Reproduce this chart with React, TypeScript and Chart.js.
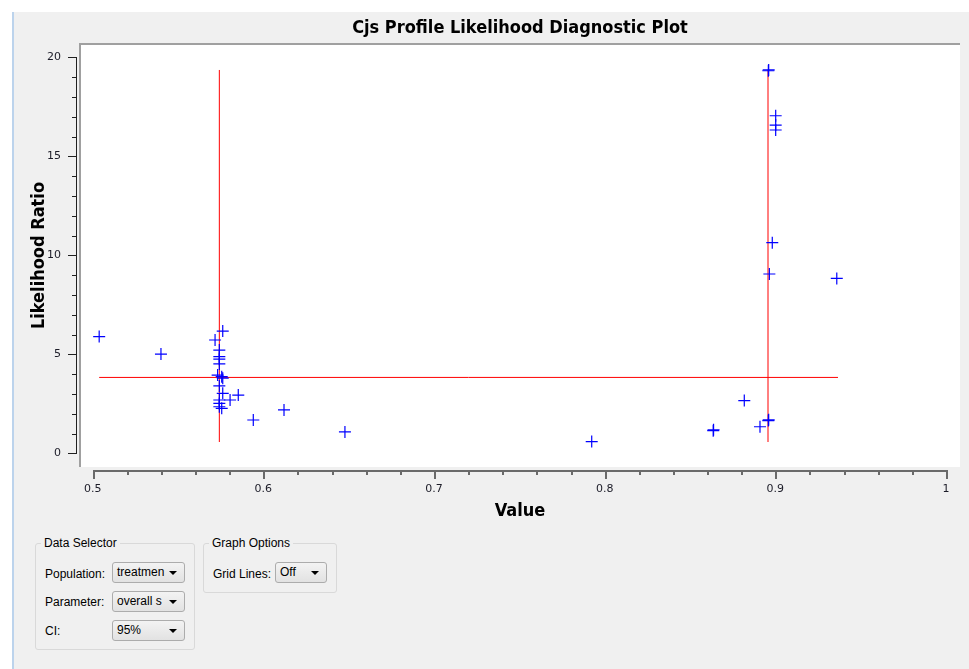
import React, { useEffect, useRef } from 'react';
import { Chart, registerables } from 'chart.js';

Chart.register(...registerables);

// ---- data ----
const valueX = [
  0.5038, 0.54, 0.5717, 0.5762, 0.5742, 0.5742, 0.5742, 0.5742, 0.5732, 0.5756,
  0.5762, 0.5742, 0.5762, 0.5853, 0.5805, 0.5742, 0.5742, 0.5742, 0.5756, 0.5941,
  0.6121, 0.6478, 0.7924, 0.8636, 0.8638, 0.8818, 0.891, 0.8959, 0.8961, 0.8959,
  0.8961, 0.9002, 0.9002, 0.9002, 0.8982, 0.8965, 0.936,
];
const likelihoodRatio = [
  5.9, 5.02, 5.73, 6.18, 5.22, 4.89, 4.76, 4.52, 3.96, 3.88,
  3.8, 3.41, 3.04, 2.95, 2.7, 2.7, 2.53, 2.36, 2.28, 1.69,
  2.2, 1.09, 0.6, 1.15, 1.2, 2.67, 1.35, 1.66, 1.7, 19.32,
  19.36, 17.05, 16.58, 16.33, 10.64, 9.06, 8.84,
];
const ciBounds = [0.5742, 0.8957];
const ciLineRange = [0.58, 19.36];
const criticalValue = 3.84;
const criticalLineRange = [0.5038, 0.9367];
const xTickValues = [0.5, 0.6, 0.7, 0.8, 0.9, 1.0];
const yTickValues = [0, 5, 10, 15, 20];
const xMinorStep = 0.02;
const yMinorStep = 1;

const TICK_FONT = { family: 'DejaVu Sans', size: 11 };
const BOLD_FONT = { family: 'DejaVu Sans Condensed', size: 18, weight: 'bold' };

const qwtAxesPlugin = {
  id: 'qwtAxes',
  beforeDraw(chart: any) {
    const { ctx, chartArea: a } = chart;
    ctx.save();
    ctx.fillStyle = '#ffffff';
    ctx.fillRect(a.left, a.top, a.right - a.left, a.bottom - a.top);
    ctx.fillStyle = '#a0a0a0';
    ctx.fillRect(a.left - 1, a.top - 1, a.right - a.left + 1, 2);
    ctx.fillRect(a.left - 1, a.top - 1, 2, a.bottom - a.top + 1);
    ctx.restore();
  },
  afterDraw(chart: any) {
    const { ctx, chartArea: a, scales } = chart;
    const xs = scales.x;
    const ys = scales.y;
    ctx.save();
    // x axis
    const axY = Math.round(a.bottom) + 3;
    const x0 = Math.round(xs.getPixelForValue(xTickValues[0]));
    const x1 = Math.round(xs.getPixelForValue(xTickValues[xTickValues.length - 1]));
    ctx.fillStyle = '#6a6a6a';
    ctx.fillRect(x0, axY, x1 - x0 + 2, 2);
    const nx = Math.round((xTickValues[xTickValues.length - 1] - xTickValues[0]) / xMinorStep);
    for (let i = 0; i <= nx; i++) {
      const v = xTickValues[0] + i * xMinorStep;
      const px = Math.round(xs.getPixelForValue(v));
      const major = i % 5 === 0;
      ctx.fillRect(px, axY, 2, major ? 9 : 5);
    }
    // y axis
    const axX = Math.round(a.left) - 4;
    const y0 = Math.round(ys.getPixelForValue(yTickValues[0]));
    const y1 = Math.round(ys.getPixelForValue(yTickValues[yTickValues.length - 1]));
    ctx.fillStyle = '#202020';
    ctx.fillRect(axX, y1, 1, y0 - y1 + 1);
    const ny = Math.round((yTickValues[yTickValues.length - 1] - yTickValues[0]) / yMinorStep);
    for (let i = 0; i <= ny; i++) {
      const v = yTickValues[0] + i * yMinorStep;
      const py = Math.round(ys.getPixelForValue(v));
      const major = i % 5 === 0;
      const len = major ? 9 : 5;
      ctx.fillRect(axX - len + 1, py, len, 1);
    }
    ctx.restore();
  },
};

export default function App() {
  const ref = useRef<HTMLCanvasElement>(null);

  useEffect(() => {
    const points = valueX.map((x, i) => ({ x, y: likelihoodRatio[i] }));
    const chart = new Chart(ref.current as HTMLCanvasElement, {
      type: 'scatter',
      data: {
        datasets: [
          {
            label: 'Profile',
            data: points,
            pointStyle: 'cross',
            pointRadius: 6,
            pointBorderWidth: 1.2,
            borderColor: '#0000ff',
            backgroundColor: '#0000ff',
            showLine: false,
          } as any,
          {
            label: 'Lower CI',
            data: [
              { x: ciBounds[0], y: ciLineRange[0] },
              { x: ciBounds[0], y: ciLineRange[1] },
            ],
            showLine: true,
            borderColor: '#ff0000',
            borderWidth: 1,
            pointRadius: 0,
          } as any,
          {
            label: 'Upper CI',
            data: [
              { x: ciBounds[1], y: ciLineRange[0] },
              { x: ciBounds[1], y: ciLineRange[1] },
            ],
            showLine: true,
            borderColor: '#ff0000',
            borderWidth: 1,
            pointRadius: 0,
          } as any,
          {
            label: 'Critical value',
            data: [
              { x: criticalLineRange[0], y: criticalValue },
              { x: criticalLineRange[1], y: criticalValue },
            ],
            showLine: true,
            borderColor: '#ff0000',
            borderWidth: 1,
            pointRadius: 0,
          } as any,
        ],
      },
      options: {
        animation: false,
        responsive: false,
        devicePixelRatio: 1,
        layout: { padding: { left: 0, right: 9, top: 0, bottom: 0 } },
        plugins: {
          legend: { display: false },
          tooltip: { enabled: false },
          title: {
            display: true,
            fullSize: false,
            text: 'Cjs Profile Likelihood Diagnostic Plot',
            color: '#000000',
            font: BOLD_FONT,
            padding: { top: 5.2, bottom: 5.2 },
          },
        },
        scales: {
          x: {
            type: 'linear',
            min: 0.49256,
            max: 1.0082,
            grid: { display: false, drawTicks: true, tickLength: 10 },
            border: { display: false },
            afterBuildTicks: (s: any) => {
              s.ticks = xTickValues.map((v) => ({ value: v }));
            },
            afterFit: (s: any) => {
              s.height = 65;
            },
            ticks: {
              padding: 6,
              color: '#1c1c28',
              font: TICK_FONT,
              maxRotation: 0,
              autoSkip: false,
              callback: (v: any) => String(+Number(v).toFixed(2)),
            },
            title: {
              display: true,
              text: 'Value',
              color: '#000000',
              font: BOLD_FONT,
              padding: { top: 0, bottom: 10 },
            },
          },
          y: {
            type: 'linear',
            min: -0.6815,
            max: 20.671,
            grid: { display: false, drawTicks: true, tickLength: 10 },
            border: { display: false },
            afterBuildTicks: (s: any) => {
              s.ticks = yTickValues.map((v) => ({ value: v }));
            },
            afterFit: (s: any) => {
              s.width = 66;
            },
            ticks: {
              padding: 9,
              color: '#1c1c28',
              font: TICK_FONT,
              autoSkip: false,
              callback: (v: any) => String(v),
            },
            title: {
              display: true,
              text: 'Likelihood Ratio',
              color: '#000000',
              font: BOLD_FONT,
              padding: { top: 14.2, bottom: 0 },
            },
          },
        },
      } as any,
      plugins: [qwtAxesPlugin],
    });
    return () => chart.destroy();
  }, []);

  const uiFont = '12px "Liberation Sans", Arial, sans-serif';

  const label = (left: number, top: number, text: string) => (
    <div
      style={{
        position: 'absolute',
        left,
        top: top - 8,
        height: 16,
        lineHeight: '16px',
        font: uiFont,
        color: '#000',
        whiteSpace: 'nowrap',
      }}
    >
      {text}
    </div>
  );

  const combo = (left: number, top: number, width: number, text: string) => (
    <div
      style={{
        position: 'absolute',
        left,
        top,
        width,
        height: 21,
        boxSizing: 'border-box',
        border: '1px solid #acacac',
        borderRadius: 3,
        background: 'linear-gradient(#f3f3f3, #e2e2e2)',
        font: uiFont,
        color: '#000',
        lineHeight: '19px',
        paddingLeft: 4,
        overflow: 'hidden',
        whiteSpace: 'nowrap',
      }}
    >
      {text}
      <div
        style={{
          position: 'absolute',
          right: 7,
          top: 8,
          width: 0,
          height: 0,
          borderLeft: '4px solid transparent',
          borderRight: '4px solid transparent',
          borderTop: '4px solid #000',
        }}
      />
    </div>
  );

  const group = (left: number, top: number, width: number, height: number, title: string) => (
    <>
      <div
        style={{
          position: 'absolute',
          left,
          top,
          width,
          height,
          boxSizing: 'border-box',
          border: '1px solid #d9d9d9',
          borderRadius: 3,
        }}
      />
      <div
        style={{
          position: 'absolute',
          left: left + 6,
          top: top - 7,
          height: 14,
          lineHeight: '14px',
          padding: '0 3px',
          background: '#f0f0f0',
          font: uiFont,
          color: '#000',
          whiteSpace: 'nowrap',
        }}
      >
        {title}
      </div>
    </>
  );

  return (
    <div
      style={{
        position: 'fixed',
        left: 0,
        top: 0,
        width: 969,
        height: 669,
        background: '#ffffff',
        overflow: 'hidden',
      }}
    >
      <div style={{ position: 'absolute', left: 14, top: 12, right: 0, bottom: 0, background: '#f0f0f0' }} />
      <div style={{ position: 'absolute', left: 12, top: 12, width: 2, bottom: 0, background: '#bcd3ec' }} />
      <canvas
        ref={ref}
        width={955}
        height={520}
        style={{ position: 'absolute', left: 14, top: 12, width: 955, height: 520 }}
      />
      {group(35, 543, 160, 107, 'Data Selector')}
      {group(203, 543, 134, 50, 'Graph Options')}
      {label(45, 575, 'Population:')}
      {combo(112, 562, 73, 'treatmen')}
      {label(45, 603, 'Parameter:')}
      {combo(112, 591, 73, 'overall s')}
      {label(45, 632, 'CI:')}
      {combo(112, 620, 73, '95%')}
      {label(213, 575, 'Grid Lines:')}
      {combo(275, 562, 52, 'Off')}
    </div>
  );
}
